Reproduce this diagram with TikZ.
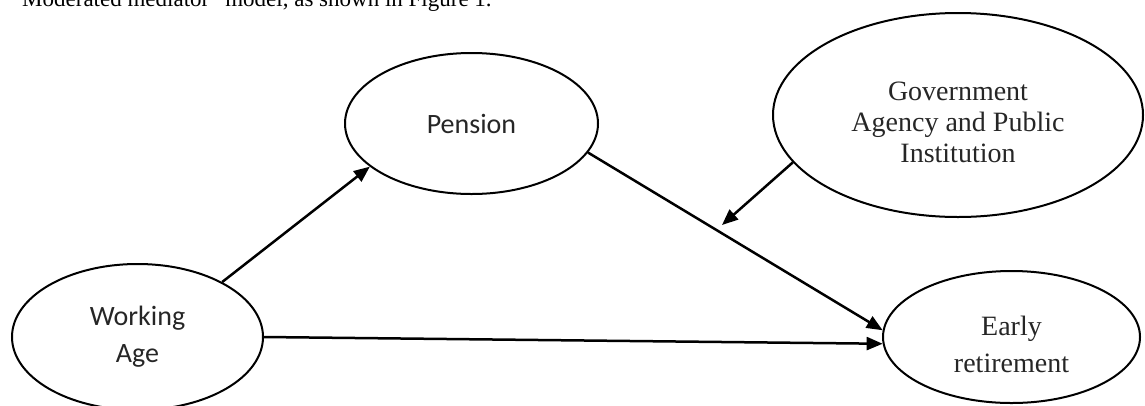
\documentclass[tikz,border=0pt]{standalone}
\usepackage{fontspec}
\setmainfont{Liberation Serif}
\newfontfamily\calibrifont{Carlito}
\usetikzlibrary{shapes.geometric,arrows.meta}
\tikzset{
  ell/.style={draw=black, line width=2pt, ellipse, inner sep=0pt, align=center},
  sanstext/.style={font=\calibrifont\fontsize{28}{37}\selectfont, text=black!85},
  seriftext/.style={font=\fontsize{28}{37}\selectfont, text=black!85, align=center, inner sep=0pt},
  arr/.style={line width=2.5pt, -{Triangle[length=16pt,width=13pt]}},
}
\begin{document}
\begin{tikzpicture}[x=1pt,y=-1pt]
\useasboundingbox (0,0) rectangle (1145,405);
\clip (0,0) rectangle (1145,405);
\node[anchor=base west, inner sep=0pt, font=\fontsize{23}{28}\selectfont] (cap) at (22,6.5) {Moderated mediator” model, as shown in Figure 1.};
\node[ell, sanstext, minimum width=253pt, minimum height=141pt] (pe) at (471.5,123.5) {Pension};
\node[ell, minimum width=370pt, minimum height=204pt] (gov) at (958,115) {};
\node[seriftext, font=\fontsize{28}{31}\selectfont] (govtext) at ([yshift=-7pt]gov.center) {Government\\Agency and Public\\Institution};
\node[ell, sanstext, minimum width=251pt, minimum height=146pt] (wa) at (137.5,337) {Working\\Age};
\node[ell, minimum width=257pt, minimum height=132pt] (er) at (1011.5,337) {};
\node[seriftext] (ertext) at ([yshift=-7pt]er.center) {Early\\retirement};
\coordinate (mod) at (722,225);
\draw[arr] (wa.33.5) -- (pe.203);
\draw[arr] (wa.east) -- (er.183.6);
\draw[arr] (pe.-14) -- (er.177.8);
\draw[arr] (gov.196) -- (mod);
\end{tikzpicture}
\end{document}
